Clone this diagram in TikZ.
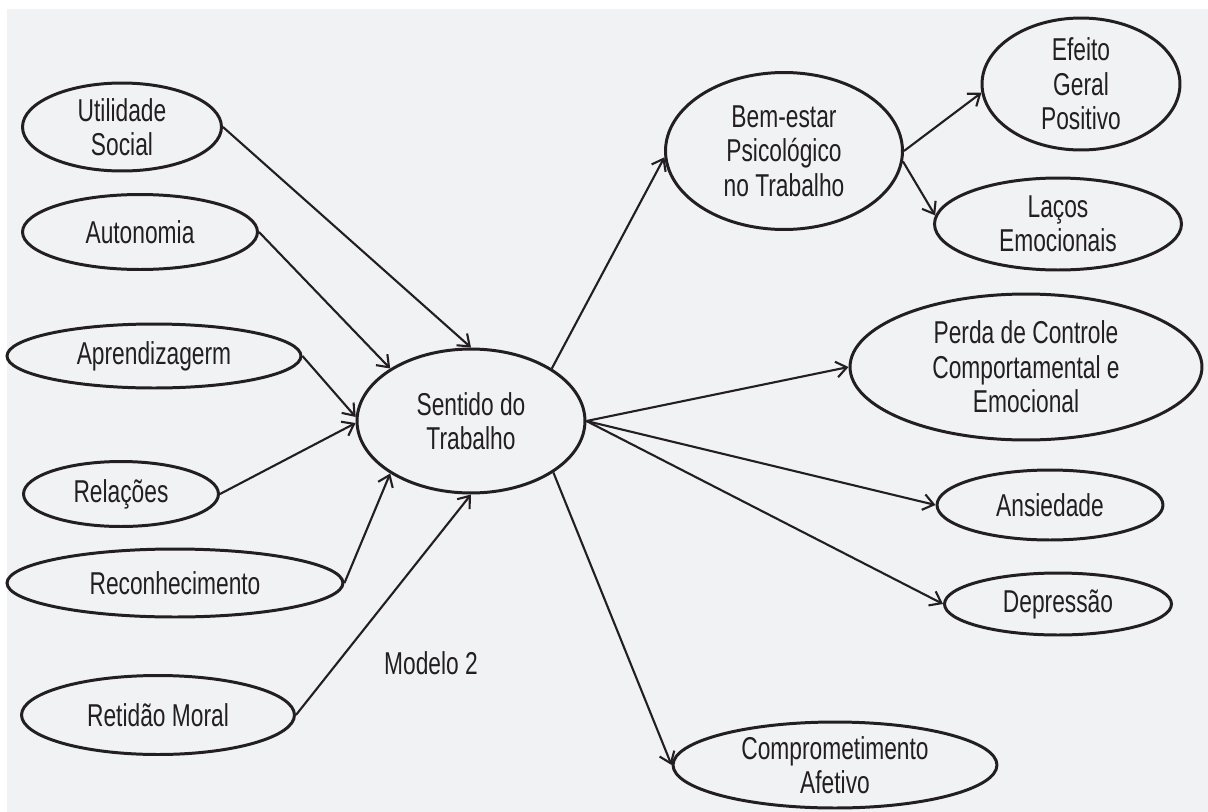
\documentclass[tikz,border=0pt]{standalone}
\usepackage{fontspec}
\setmainfont{Liberation Sans}[FakeStretch=0.72]
\usetikzlibrary{shapes.geometric,arrows.meta}
\definecolor{panel}{RGB}{241,242,244}
\definecolor{ink}{RGB}{35,31,32}
\begin{document}
\begin{tikzpicture}[x=0.02cm, y=-0.02cm, every node/.style={shape=ellipse, draw=ink, line width=1.7pt,
                  inner xsep=0pt, inner ysep=-4pt, align=center, text=ink, font=\fontsize{18}{19.6}\selectfont},
                  arr/.style={-{Straight Barb[length=6pt,width=9pt]}, line width=1.2pt, draw=ink}]
              \useasboundingbox (0,0) rectangle (1208,812);
              \fill[white] (0,0) rectangle (1208,812);
              \fill[panel] (7,9) rectangle (1208,812);
              \node[minimum width=3.98cm, minimum height=1.76cm] (util) at (122,127) {Utilidade\\Social};
              \node[minimum width=4.7cm, minimum height=1.5cm] (auton) at (140,232) {Autonomia};
              \node[minimum width=5.88cm, minimum height=1.28cm] (aprend) at (154,356) {Aprendizagerm};
              \node[minimum width=3.9cm, minimum height=1.3cm] (relac) at (121,494) {Relações};
              \node[minimum width=6.72cm, minimum height=1.36cm] (recon) at (175,583) {Reconhecimento};
              \node[minimum width=5.46cm, minimum height=1.58cm] (retid) at (158,715) {Retidão Moral};
              \node[minimum width=4.56cm, minimum height=2.88cm] (sent) at (471,421) {Sentido do\\Trabalho};
              \node[draw=none, shape=rectangle] (model) at (431,663) {Modelo 2};
              \node[minimum width=4.74cm, minimum height=3.14cm] (bem) at (784,151) {Bem-estar\\Psicológico\\no Trabalho};
              \node[minimum width=3.96cm, minimum height=2.64cm] (efeito) at (1081,84) {Efeito\\Geral\\Positivo};
              \node[minimum width=4.94cm, minimum height=1.84cm] (lacos) at (1058,224) {Laços\\Emocionais};
              \node[minimum width=7.04cm, minimum height=2.92cm] (perda) at (1026,367) {Perda de Controle\\Comportamental e\\Emocional};
              \node[minimum width=4.52cm, minimum height=1.4cm] (ansied) at (1050,505) {Ansiedade};
              \node[minimum width=4.54cm, minimum height=1.24cm] (depres) at (1058,604) {Depressão};
              \node[minimum width=6.48cm, minimum height=1.72cm] (compr) at (835,765) {Comprometimento\\Afetivo};
              \draw[arr] (util.east) -- (sent.north);
              \draw[arr] (auton.east) -- (sent.147);
              \draw[arr] (aprend.east) -- (sent.178);
              \draw[arr] (relac.east) -- (sent.181);
              \draw[arr] (recon.east) -- (sent.213);
              \draw[arr] (retid.east) -- (sent.south);
              \draw[arr] (sent.33) -- (bem.183);
              \draw[arr] (sent.east) -- (perda.west);
              \draw[arr] (sent.east) -- (ansied.west);
              \draw[arr] (sent.east) -- (depres.west);
              \draw[arr] (sent.-32) -- (compr.west);
              \draw[arr] (bem.east) -- (efeito.185);
              \draw[arr] (bem.-5) -- (lacos.176);
          \end{tikzpicture}
\end{document}
